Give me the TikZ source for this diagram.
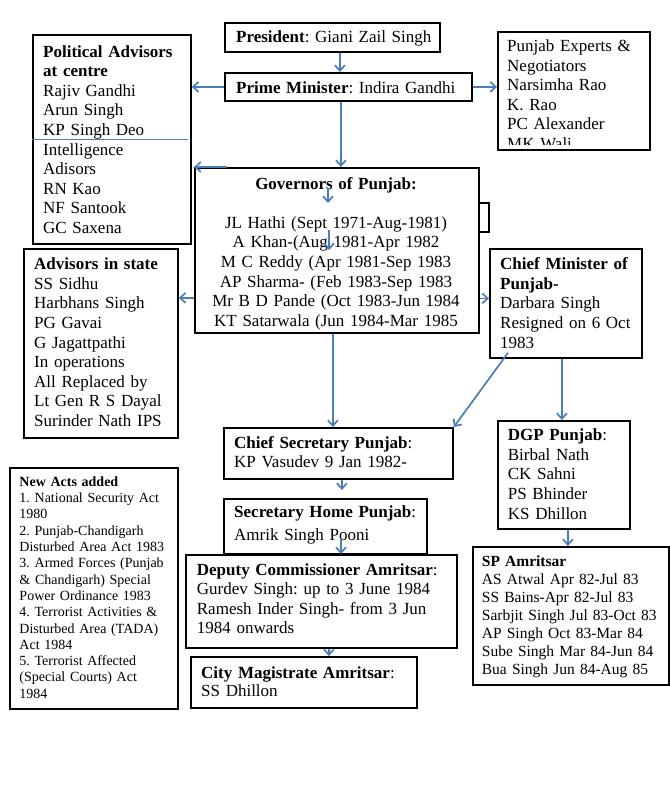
\documentclass[tikz,border=0pt]{standalone}
\usepackage{fontspec}
\setmainfont{Liberation Serif}
\usetikzlibrary{arrows.meta}
\usetikzlibrary{calc}
\definecolor{arrblue}{RGB}{74,126,187}
\newcommand{\fmain}{\fontsize{17}{19.6}\selectfont\frenchspacing}
\newcommand{\fsmall}{\fontsize{14}{16.3}\selectfont\frenchspacing}
\newcommand{\fsp}{\fontsize{15.5}{17.9}\selectfont\frenchspacing}

\begin{document}
\begin{tikzpicture}[x=1pt,y=-1pt,
	box/.style={draw,line width=1.8pt,inner sep=0pt,anchor=north west},
	txt/.style={inner sep=0pt,anchor=base west,text width=260pt,align=left,font=\fmain},
	arr/.style={arrblue,line width=1.7pt,-{Straight Barb[length=5.5pt,width=10pt]}}]
	\useasboundingbox (0,0) rectangle (669,800);

	% boxes
	\node[box,minimum width=215,minimum height=29] (pres) at (224,22) {};
	\node[box,minimum width=247,minimum height=28] (pm) at (224,72) {};
	\node[box,minimum width=158,minimum height=209] (polad) at (32,34) {};
	\node[box,minimum width=152,minimum height=118] (expert) at (497,31) {};
	\node[box,minimum width=284,minimum height=165] (gov) at (194,167) {};
	\node[box,minimum width=10,minimum height=29] (govtab) at (478,202) {};
	\node[box,minimum width=154,minimum height=189] (advst) at (23,248) {};
	\node[box,minimum width=152,minimum height=109] (cm) at (489,248) {};
	\node[box,minimum width=229,minimum height=51] (chsec) at (223,427) {};
	\node[box,minimum width=132,minimum height=108] (dgp) at (497,420) {};
	\node[box,minimum width=203,minimum height=55] (sechome) at (223,498) {};
	\node[box,minimum width=271,minimum height=93] (dep) at (185,554) {};
	\node[box,minimum width=226,minimum height=51] (city) at (190,656) {};
	\node[box,minimum width=168,minimum height=241] (acts) at (9,467) {};
	\node[box,minimum width=196,minimum height=138] (sp) at (472,546) {};

	% texts
	\node[txt] (prestxt) at (236,43) {\textbf{President}: Giani Zail Singh};
	\node[txt] (pmtxt) at (236,93) {\textbf{Prime Minister}: Indira Gandhi};
	\node[txt] (poladtxt) at (43,57) {\textbf{Political Advisors}\\\textbf{at centre}\\Rajiv Gandhi\\Arun Singh\\KP Singh Deo\\Intelligence\\Adisors\\RN Kao\\NF Santook\\GC Saxena};
	\begin{scope}
		\clip (expert.north west) rectangle ([yshift=6pt]expert.south east);
		\node[txt] (experttxt) at (507,51.5) {Punjab Experts \&\\Negotiators\\Narsimha Rao\\K. Rao\\PC Alexander\\MK Wali};
	\end{scope}
	\node[txt,anchor=base,align=center,text width=284pt] (govtxt) at (336,189) {\textbf{Governors of Punjab:}\\[19.6pt]JL Hathi (Sept 1971-Aug-1981)\\A Khan-(Aug 1981-Apr 1982\\M C Reddy (Apr 1981-Sep 1983\\AP Sharma- (Feb 1983-Sep 1983\\Mr B D Pande (Oct 1983-Jun 1984\\KT Satarwala (Jun 1984-Mar 1985};
	\node[txt] (advsttxt) at (34,269.6) {\textbf{Advisors in state}\\SS Sidhu\\Harbhans Singh\\PG Gavai\\G Jagattpathi\\In operations\\All Replaced by\\Lt Gen R S Dayal\\Surinder Nath IPS};
	\node[txt] (cmtxt) at (500,269.6) {\textbf{Chief Minister of}\\\textbf{Punjab-}\\Darbara Singh\\Resigned on 6 Oct\\1983};
	\node[txt] (chsectxt) at (234,448) {\textbf{Chief Secretary Punjab}:\\[-0.6pt]KP Vasudev 9 Jan 1982-};
	\node[txt] (dgptxt) at (507.7,440.6) {\textbf{DGP Punjab}:\\Birbal Nath\\CK Sahni\\PS Bhinder\\KS Dhillon};
	\node[txt] (sechometxt) at (234,517.3) {\textbf{Secretary Home Punjab}:\\[3.7pt]Amrik Singh Pooni};
	\node[txt] (deptxt) at (196.7,575) {\textbf{Deputy Commissioner Amritsar}:\\Gurdev Singh: up to 3 June 1984\\Ramesh Inder Singh- from 3 Jun\\1984 onwards};
	\node[txt] (citytxt) at (201,678) {\textbf{City Magistrate Amritsar}:\\[-1.2pt]SS Dhillon};
	\node[txt,font=\fsmall] (actstxt) at (19.3,486.3) {\textbf{New Acts added}\\1. National Security Act\\1980\\2. Punjab-Chandigarh\\Disturbed Area Act 1983\\3. Armed Forces (Punjab\\\& Chandigarh) Special\\Power Ordinance 1983\\4. Terrorist Activities \&\\Disturbed Area (TADA)\\Act 1984\\5. Terrorist Affected\\(Special Courts) Act\\1984};
	\node[txt,font=\fsp] (sptxt) at (481.7,566.8) {\textbf{SP Amritsar}\\AS Atwal Apr 82-Jul 83\\SS Bains-Apr 82-Jul 83\\Sarbjit Singh Jul 83-Oct 83\\AP Singh Oct 83-Mar 84\\Sube Singh Mar 84-Jun 84\\Bua Singh Jun 84-Aug 85};

	% connectors
	\draw[arrblue,line width=1.2pt] (polad.west) -- ([xshift=-4pt]polad.east);
	\draw[arr] ([xshift=7.5pt]pres.south) coordinate (a1) -- (a1 |- pm.north);
	\draw[arr] (pm.west) -- (polad.east |- pm.west);
	\draw[arr] (pm.east) -- (expert.west |- pm.east);
	\draw[arr] ([xshift=-7.5pt]pm.south) coordinate (a2) -- (a2 |- gov.north);
	\draw[arr] ([xshift=33pt]gov.north west) -- (gov.north west);
	\draw[arr] ([shift={(134,21)}]gov.north west) -- ([shift={(134,36)}]gov.north west);
	\draw[arr] ([shift={(135,63)}]gov.north west) -- ([shift={(135,83)}]gov.north west);
	\draw[arr] ([yshift=-47.5pt]gov.west) coordinate (a3) -- (advst.east |- a3);
	\draw[arr] ([yshift=-48pt]gov.east) coordinate (a4) -- (cm.west |- a4);
	\draw[arr] ([xshift=-4pt]gov.south) coordinate (a5) -- (a5 |- chsec.north);
	\draw[arr] ([shift={(19,-6)}]cm.south west) -- (chsec.north east);
	\draw[arr] ([xshift=-4pt]cm.south) coordinate (a6) -- (a6 |- dgp.north);
	\draw[arr] ([xshift=4pt]dgp.south) coordinate (a7) -- (a7 |- sp.north);
	\draw[arr] ([xshift=3.5pt]chsec.south) coordinate (a8) -- ($(a8 |- sechome.north)+(0,-8)$);
	\draw[arr] ([shift={(118,42)}]sechome.north west) coordinate (a9) -- (a9 |- dep.north);
	\draw[arr] ([xshift=7.5pt]dep.south) coordinate (a10) -- (a10 |- city.north);
\end{tikzpicture}
\end{document}
